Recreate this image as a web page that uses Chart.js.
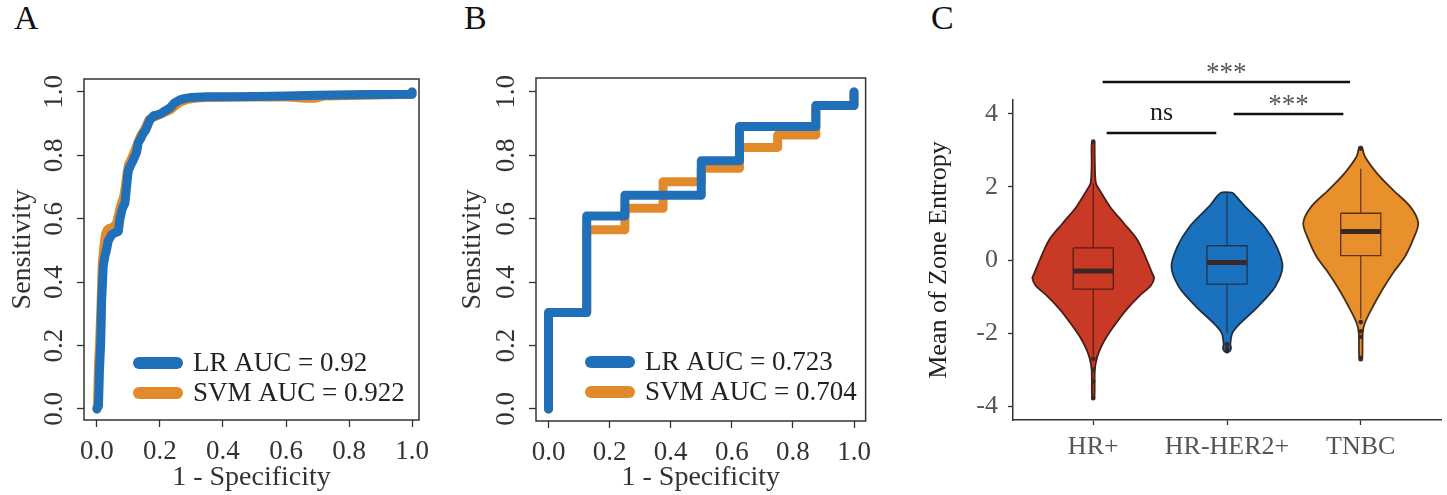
<!DOCTYPE html>
<html>
<head>
<meta charset="utf-8">
<script src="https://cdn.jsdelivr.net/npm/chart.js@4.4.1/dist/chart.umd.min.js"></script>
<style>
  html, body { margin: 0; padding: 0; background: #fff; }
  body { width: 1447px; height: 495px; position: relative; overflow: hidden; font-family: "Liberation Serif", "Times New Roman", serif; }
  canvas { position: absolute; top: 0; }
  .tag { position: absolute; font-size: 34px; line-height: 1; color: #111; }
</style>
</head>
<body>
<div class="tag" style="left:14px;top:1px">A</div>
<div class="tag" style="left:464px;top:1px">B</div>
<div class="tag" style="left:931px;top:1px">C</div>
<canvas id="rocA" width="440" height="495" style="left:0"></canvas>
<canvas id="rocB" width="440" height="495" style="left:440px"></canvas>
<canvas id="violinC" width="547" height="495" style="left:900px"></canvas>
<script>
// ---- data ----
const rocTicks = [0, 0.2, 0.4, 0.6, 0.8, 1.0];

// panel A
const aLrFpr = [0, 0.005, 0.008, 0.012, 0.015, 0.02, 0.025, 0.03, 0.036, 0.047, 0.055, 0.068, 0.073, 0.08, 0.089, 0.094, 0.099, 0.105, 0.115, 0.126, 0.131, 0.14, 0.147, 0.155, 0.168, 0.18, 0.19, 0.2, 0.215, 0.232, 0.245, 0.263, 0.28, 0.3, 0.348, 0.45, 0.6, 0.7, 0.85, 1.0, 1.0];
const aLrTpr = [0, 0.01, 0.12, 0.21, 0.34, 0.45, 0.48, 0.5, 0.53, 0.55, 0.555, 0.56, 0.6, 0.63, 0.65, 0.7, 0.75, 0.765, 0.785, 0.81, 0.84, 0.855, 0.87, 0.88, 0.912, 0.925, 0.927, 0.93, 0.94, 0.95, 0.965, 0.975, 0.98, 0.983, 0.985, 0.985, 0.987, 0.99, 0.992, 0.993, 1.0];
const aSvmFpr = [0, 0.002, 0.005, 0.009, 0.013, 0.017, 0.022, 0.027, 0.033, 0.04, 0.05, 0.062, 0.068, 0.075, 0.085, 0.09, 0.095, 0.1, 0.11, 0.12, 0.13, 0.138, 0.147, 0.155, 0.165, 0.178, 0.19, 0.2, 0.215, 0.235, 0.25, 0.265, 0.285, 0.31, 0.35, 0.45, 0.6, 0.66, 0.69, 0.72, 0.85, 1.0, 1.0];
const aSvmTpr = [0, 0.02, 0.14, 0.22, 0.33, 0.46, 0.51, 0.55, 0.565, 0.57, 0.572, 0.585, 0.61, 0.64, 0.67, 0.7, 0.74, 0.77, 0.79, 0.815, 0.84, 0.86, 0.875, 0.89, 0.912, 0.92, 0.925, 0.93, 0.935, 0.945, 0.958, 0.968, 0.976, 0.98, 0.983, 0.984, 0.985, 0.98, 0.98, 0.987, 0.99, 0.993, 1.0];
const aLabels = ['LR AUC = 0.92', 'SVM AUC = 0.922'];

// panel B
const bLrFpr = [0, 0, 0.125, 0.125, 0.25, 0.25, 0.5, 0.5, 0.625, 0.625, 0.875, 0.875, 1.0, 1.0];
const bLrTpr = [0, 0.304, 0.304, 0.609, 0.609, 0.674, 0.674, 0.783, 0.783, 0.891, 0.891, 0.957, 0.957, 1.0];
const bSvmFpr = [0, 0, 0.125, 0.125, 0.25, 0.25, 0.375, 0.375, 0.5, 0.5, 0.625, 0.625, 0.75, 0.75, 0.875, 0.875, 1.0, 1.0];
const bSvmTpr = [0, 0.304, 0.304, 0.565, 0.565, 0.633, 0.633, 0.717, 0.717, 0.759, 0.759, 0.825, 0.825, 0.864, 0.864, 0.957, 0.957, 1.0];
const bLabels = ['LR AUC = 0.723', 'SVM AUC = 0.704'];

// panel C
const groups = ['HR+', 'HR-HER2+', 'TNBC'];
const entropyTicks = [-4, -2, 0, 2, 4];
const hrLevels = [3.24, 2.6, 2.1, 1.9, 1.46, 1.0, 0.55, 0.0, -0.36, -0.5, -0.7, -1.0, -1.35, -1.73, -2.1, -2.37, -2.65, -3.0, -3.8];
const hrDensity = [0.01, 0.012, 0.02, 0.05, 0.125, 0.23, 0.33, 0.40, 0.44, 0.455, 0.43, 0.34, 0.25, 0.17, 0.10, 0.06, 0.03, 0.012, 0.008];
const her2Levels = [1.84, 1.46, 0.91, 0.37, -0.18, -0.73, -1.28, -1.73, -2.0, -2.3, -2.42, -2.51];
const her2Density = [0.045, 0.135, 0.28, 0.37, 0.415, 0.36, 0.23, 0.10, 0.04, 0.025, 0.03, 0.015];
const tnbcLevels = [3.1, 2.84, 2.38, 1.92, 1.46, 1.01, 0.55, 0.09, -0.36, -0.82, -1.28, -1.73, -2.0, -2.74];
const tnbcDensity = [0.01, 0.03, 0.12, 0.24, 0.37, 0.43, 0.39, 0.33, 0.24, 0.16, 0.09, 0.03, 0.015, 0.01];
const boxQ1 = [-0.8, -0.66, 0.12];
const boxMedian = [-0.30, -0.07, 0.78];
const boxQ3 = [0.33, 0.39, 1.28];
const whiskerLo = [-2.6, -2.0, -1.6];
const whiskerHi = [2.1, 1.84, 2.5];
const hrOutliers = [3.24, -2.7, -3.0, -3.33, -3.78];
const her2Outliers = [-2.3, -2.42, -2.5];
const tnbcOutliers = [3.05, -1.7, -1.95, -2.1, -2.68];
const bracketFrom = [1.07, 1.10, 2.05];
const bracketTo = [2.92, 1.92, 2.87];
const bracketY = [4.87, 3.48, 4.0];
const bracketText = ['***', 'ns', '***'];

// ---- styles ----
const SERIF = '"Liberation Serif", "Times New Roman", serif';
const BLUE = '#1f70b8';
const ORANGE = '#e28a2b';
const violinFill = ['#c93a26', '#1a72bf', '#e8912c'];
const violinEdge = ['#4a1e14', '#1c2f45', '#4a2e14'];
const boxEdge = ['#5a1a10', '#1d3550', '#5e3310'];

const pts = (xs, ys) => xs.map((x, i) => ({ x, y: ys[i] }));

const frame = {
    id: 'frame',
    afterDraw(chart) {
        const { ctx, chartArea: a } = chart;
        ctx.save();
        ctx.strokeStyle = '#333';
        ctx.lineWidth = 1.5;
        ctx.strokeRect(a.left, a.top, a.right - a.left, a.bottom - a.top);
        ctx.restore();
    }
};

const rocLegend = {
    id: 'rocLegend',
    afterDatasetsDraw(chart) {
        const { ctx, chartArea: a } = chart;
        chart.data.datasets.forEach((ds, i) => {
            const y = a.top + 284 + i * 30;
            ctx.save();
            ctx.strokeStyle = ds.borderColor;
            ctx.lineWidth = 12;
            ctx.lineCap = 'round';
            ctx.beginPath();
            ctx.moveTo(a.left + 55, y);
            ctx.lineTo(a.left + 93, y);
            ctx.stroke();
            ctx.fillStyle = '#222';
            ctx.font = '27px ' + SERIF;
            ctx.textBaseline = 'middle';
            ctx.fillText(ds.label, a.left + 109, y + 1);
            ctx.restore();
        });
    }
};

function rocChart(id, lr, svm, labels, geo) {
    return new Chart(document.getElementById(id), {
        type: 'scatter',
        data: {
            datasets: [
                { label: labels[0], data: lr, showLine: true, borderColor: BLUE, borderWidth: 9, pointRadius: 0,
                  borderCapStyle: 'round', borderJoinStyle: 'round' },
                { label: labels[1], data: svm, showLine: true, borderColor: ORANGE, borderWidth: 9, pointRadius: 0,
                  borderCapStyle: 'round', borderJoinStyle: 'round' },
            ],
        },
        options: {
            responsive: false,
            animation: false,
            layout: { padding: { top: geo.top, right: geo.right, bottom: 0, left: 0 } },
            plugins: { legend: { display: false }, tooltip: { enabled: false } },
            scales: {
                x: {
                    min: geo.xMin, max: geo.xMax,
                    afterBuildTicks: s => { s.ticks = rocTicks.map(v => ({ value: v })); },
                    afterFit: s => { s.height = 495 - geo.bottom; },
                    ticks: { callback: v => v.toFixed(1), color: '#333', padding: 9, maxRotation: 0, autoSkip: false,
                             font: { family: SERIF, size: 27 } },
                    grid: { drawOnChartArea: false, tickLength: 7, tickColor: '#333', tickWidth: 1.3 },
                    border: { display: false },
                    title: { display: true, text: '1 - Specificity', color: '#333', padding: { top: 0, bottom: 1 },
                             font: { family: SERIF, size: 28 } },
                },
                y: {
                    min: geo.yMin, max: geo.yMax,
                    afterBuildTicks: s => { s.ticks = rocTicks.map(v => ({ value: v })); },
                    afterFit: s => { s.width = geo.left; },
                    ticks: { callback: v => v.toFixed(1), color: '#333', padding: 5, minRotation: 90, maxRotation: 90,
                             crossAlign: 'center', autoSkip: false, font: { family: SERIF, size: 27 } },
                    grid: { drawOnChartArea: false, tickLength: 7, tickColor: '#333', tickWidth: 1.3 },
                    border: { display: false },
                    title: { display: true, text: 'Sensitivity', color: '#333', padding: { top: geo.titlePad, bottom: 0 },
                             font: { family: SERIF, size: 28 } },
                },
            },
        },
        plugins: [frame, rocLegend],
    });
}

rocChart('rocA', pts(aLrFpr, aLrTpr), pts(aSvmFpr, aSvmTpr), aLabels,
    { top: 79, right: 21, bottom: 420, left: 84, xMin: -0.041, xMax: 1.022, yMin: -0.035, yMax: 1.041, titlePad: 6 });
rocChart('rocB', pts(bLrFpr, bLrTpr), pts(bSvmFpr, bSvmTpr), bLabels,
    { top: 78, right: 3, bottom: 421, left: 96, xMin: -0.041, xMax: 1.038, yMin: -0.038, yMax: 1.044, titlePad: 16 });

// ---- panel C: violins ----
function violinShape(pos, levels, dens) {
    const right = levels.map((y, i) => ({ x: pos + dens[i], y }));
    const left = levels.map((y, i) => ({ x: pos - dens[i], y })).reverse();
    return right.concat(left, [right[0]]);
}
function boxShape(i) {
    const c = i + 1, w = 0.15;
    return [{ x: c - w, y: boxQ3[i] }, { x: c + w, y: boxQ3[i] }, { x: c + w, y: boxQ1[i] },
            { x: c - w, y: boxQ1[i] }, { x: c - w, y: boxQ3[i] }];
}

const violinLevels = [hrLevels, her2Levels, tnbcLevels];
const violinDensity = [hrDensity, her2Density, tnbcDensity];
const outliers = [hrOutliers, her2Outliers, tnbcOutliers];

const cDatasets = [];
groups.forEach((g, i) => {
    cDatasets.push({ data: violinShape(i + 1, violinLevels[i], violinDensity[i]), showLine: true, fill: 'shape',
        backgroundColor: violinFill[i], borderColor: violinEdge[i], borderWidth: 1.8, pointRadius: 0, tension: 0.3, order: 6 });
    cDatasets.push({ data: [{ x: i + 1, y: whiskerLo[i] }, { x: i + 1, y: whiskerHi[i] }], showLine: true,
        borderColor: boxEdge[i], borderWidth: 1.2, pointRadius: 0, order: 5 });
    cDatasets.push({ data: boxShape(i), showLine: true, fill: 'shape', backgroundColor: violinFill[i],
        borderColor: boxEdge[i], borderWidth: 1.3, pointRadius: 0, order: 4 });
    cDatasets.push({ data: [{ x: i + 0.85, y: boxMedian[i] }, { x: i + 1.15, y: boxMedian[i] }], showLine: true,
        borderColor: '#3a2826', borderWidth: 5, pointRadius: 0, order: 3 });
    cDatasets.push({ data: outliers[i].map(y => ({ x: i + 1, y })), showLine: false,
        pointRadius: 2.3, pointBackgroundColor: '#3a2826', pointBorderWidth: 0, order: 2 });
});
bracketFrom.forEach((x0, k) => {
    cDatasets.push({ data: [{ x: x0, y: bracketY[k] }, { x: bracketTo[k], y: bracketY[k] }], showLine: true,
        borderColor: '#111', borderWidth: 2.5, pointRadius: 0, clip: false, order: 1 });
});

const bracketLabels = {
    id: 'bracketLabels',
    afterDatasetsDraw(chart) {
        const { ctx, scales: { x, y } } = chart;
        bracketText.forEach((t, k) => {
            const cx = x.getPixelForValue((bracketFrom[k] + bracketTo[k]) / 2);
            const ly = y.getPixelForValue(bracketY[k]);
            ctx.save();
            ctx.textAlign = 'center';
            ctx.textBaseline = 'middle';
            if (t === 'ns') {
                ctx.fillStyle = '#222';
                ctx.font = '26px ' + SERIF;
                ctx.fillText(t, cx, ly - 20);
            } else {
                ctx.fillStyle = '#555';
                ctx.font = '27px ' + SERIF;
                ctx.fillText(t, cx, ly - 8);
            }
            ctx.restore();
        });
    }
};

new Chart(document.getElementById('violinC'), {
    type: 'scatter',
    data: { datasets: cDatasets },
    options: {
        responsive: false,
        animation: false,
        layout: { padding: { top: 100, right: 6, bottom: 0, left: 0 } },
        plugins: { legend: { display: false }, tooltip: { enabled: false } },
        scales: {
            x: {
                min: 0.4, max: 3.6,
                afterBuildTicks: s => { s.ticks = groups.map((g, i) => ({ value: i + 1 })); },
                afterFit: s => { s.height = 75; },
                ticks: { callback: v => groups[v - 1], color: '#555', padding: 7, maxRotation: 0, autoSkip: false,
                         font: { family: SERIF, size: 26 } },
                grid: { drawOnChartArea: false, tickLength: 5, tickColor: '#333', tickWidth: 1.3 },
                border: { color: '#333', width: 1.5 },
            },
            y: {
                min: -4.38, max: 4.38,
                afterBuildTicks: s => { s.ticks = entropyTicks.map(v => ({ value: v })); },
                afterFit: s => { s.width = 113; },
                ticks: { callback: v => String(v), color: '#555', padding: 10, autoSkip: false,
                         font: { family: SERIF, size: 26 } },
                grid: { drawOnChartArea: false, tickLength: 5, tickColor: '#333', tickWidth: 1.3 },
                border: { color: '#333', width: 1.5 },
                title: { display: true, text: 'Mean of Zone Entropy', color: '#222', padding: { top: 24, bottom: 0 },
                         font: { family: SERIF, size: 26 } },
            },
        },
    },
    plugins: [bracketLabels],
});
</script>
</body>
</html>
